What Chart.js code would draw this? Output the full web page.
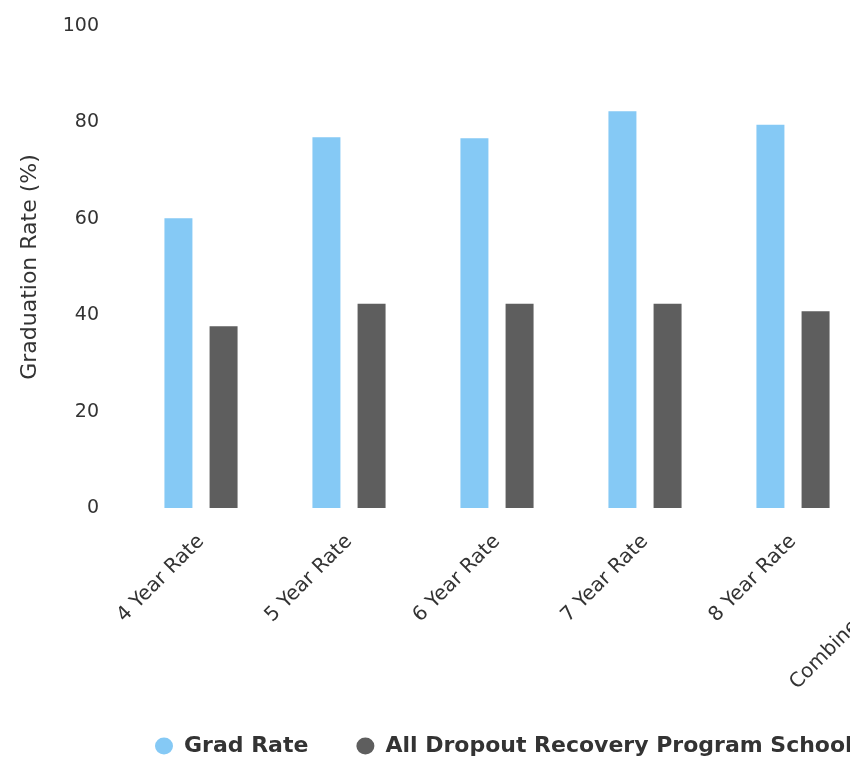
<!DOCTYPE html>
<html>
<head>
<meta charset="utf-8">
<script src="https://cdn.jsdelivr.net/npm/chart.js@4"></script>
<style>
  html, body { margin: 0; padding: 0; background: #fff; overflow: hidden; }
  #wrap { width: 1040px; height: 763px; }
</style>
</head>
<body>
<div id="wrap"><canvas id="myChart" width="1040" height="763"></canvas></div>
<script>
// datos (la ultima categoria esta cortada)
const categorias = ['4 Year Rate', '5 Year Rate', '6 Year Rate', '7 Year Rate', '8 Year Rate', 'Combined Grad Rate'];
const gradRate = [60.1, 76.9, 76.7, 82.3, 79.5, null];
const dropoutRate = [37.7, 42.4, 42.4, 42.4, 40.8, null];
const ticksY = [0, 20, 40, 60, 80, 100];

const fuente = "'DejaVu Sans', Verdana, sans-serif";

// mover la leyenda para que quede donde en la imagen
const moverLeyenda = {
    id: 'moverLeyenda',
    afterLayout(chart) {
        chart.legend.left = 107;
        chart.legend.top = chart.legend.top - 21;
    }
};

const ctx = document.getElementById("myChart").getContext("2d");
new Chart(ctx, {
    type: "bar",
    data: {
        labels: categorias,
        datasets: [{
            label: 'Grad Rate',
            data: gradRate,
            backgroundColor: '#85c9f5',
            categoryPercentage: 0.61,
            barPercentage: 0.62
        }, {
            label: 'All Dropout Recovery Program Schools',
            data: dropoutRate,
            backgroundColor: '#5e5e5e',
            categoryPercentage: 0.61,
            barPercentage: 0.62
        }]
    },
    options: {
        responsive: false,
        animation: false,
        layout: { padding: { left: 10, right: 25, top: 0, bottom: -25 } },
        scales: {
            x: {
                grid: { display: false, drawTicks: false },
                border: { display: false },
                ticks: {
                    color: '#333',
                    font: { family: fuente, size: 20 },
                    minRotation: 45,
                    maxRotation: 45,
                    autoSkip: false,
                    padding: 22
                },
                afterFit: (s) => { s.height = 200; }
            },
            y: {
                min: 0,
                max: 100,
                afterBuildTicks: (s) => { s.ticks = ticksY.map(v => ({ value: v })); },
                grid: { display: false, drawTicks: false },
                border: { display: false },
                ticks: {
                    color: '#333',
                    font: { family: fuente, size: 19 },
                    padding: 28
                },
                title: {
                    display: true,
                    text: 'Graduation Rate (%)',
                    color: '#333',
                    font: { family: fuente, size: 22 },
                    padding: { top: 7, bottom: 0 }
                },
                afterFit: (s) => {
                    s.width = 117;
                    s.paddingTop = 26;
                    s.paddingBottom = 12;
                }
            }
        },
        plugins: {
            legend: {
                position: 'bottom',
                align: 'start',
                fullSize: false,
                labels: {
                    usePointStyle: true,
                    pointStyle: 'circle',
                    boxWidth: 12,
                    boxHeight: 12,
                    pointStyleWidth: 18,
                    padding: 48,
                    color: '#333',
                    font: { family: fuente, size: 22, weight: 'bold' }
                }
            },
            tooltip: { enabled: false }
        }
    },
    plugins: [moverLeyenda]
});
</script>
</body>
</html>
